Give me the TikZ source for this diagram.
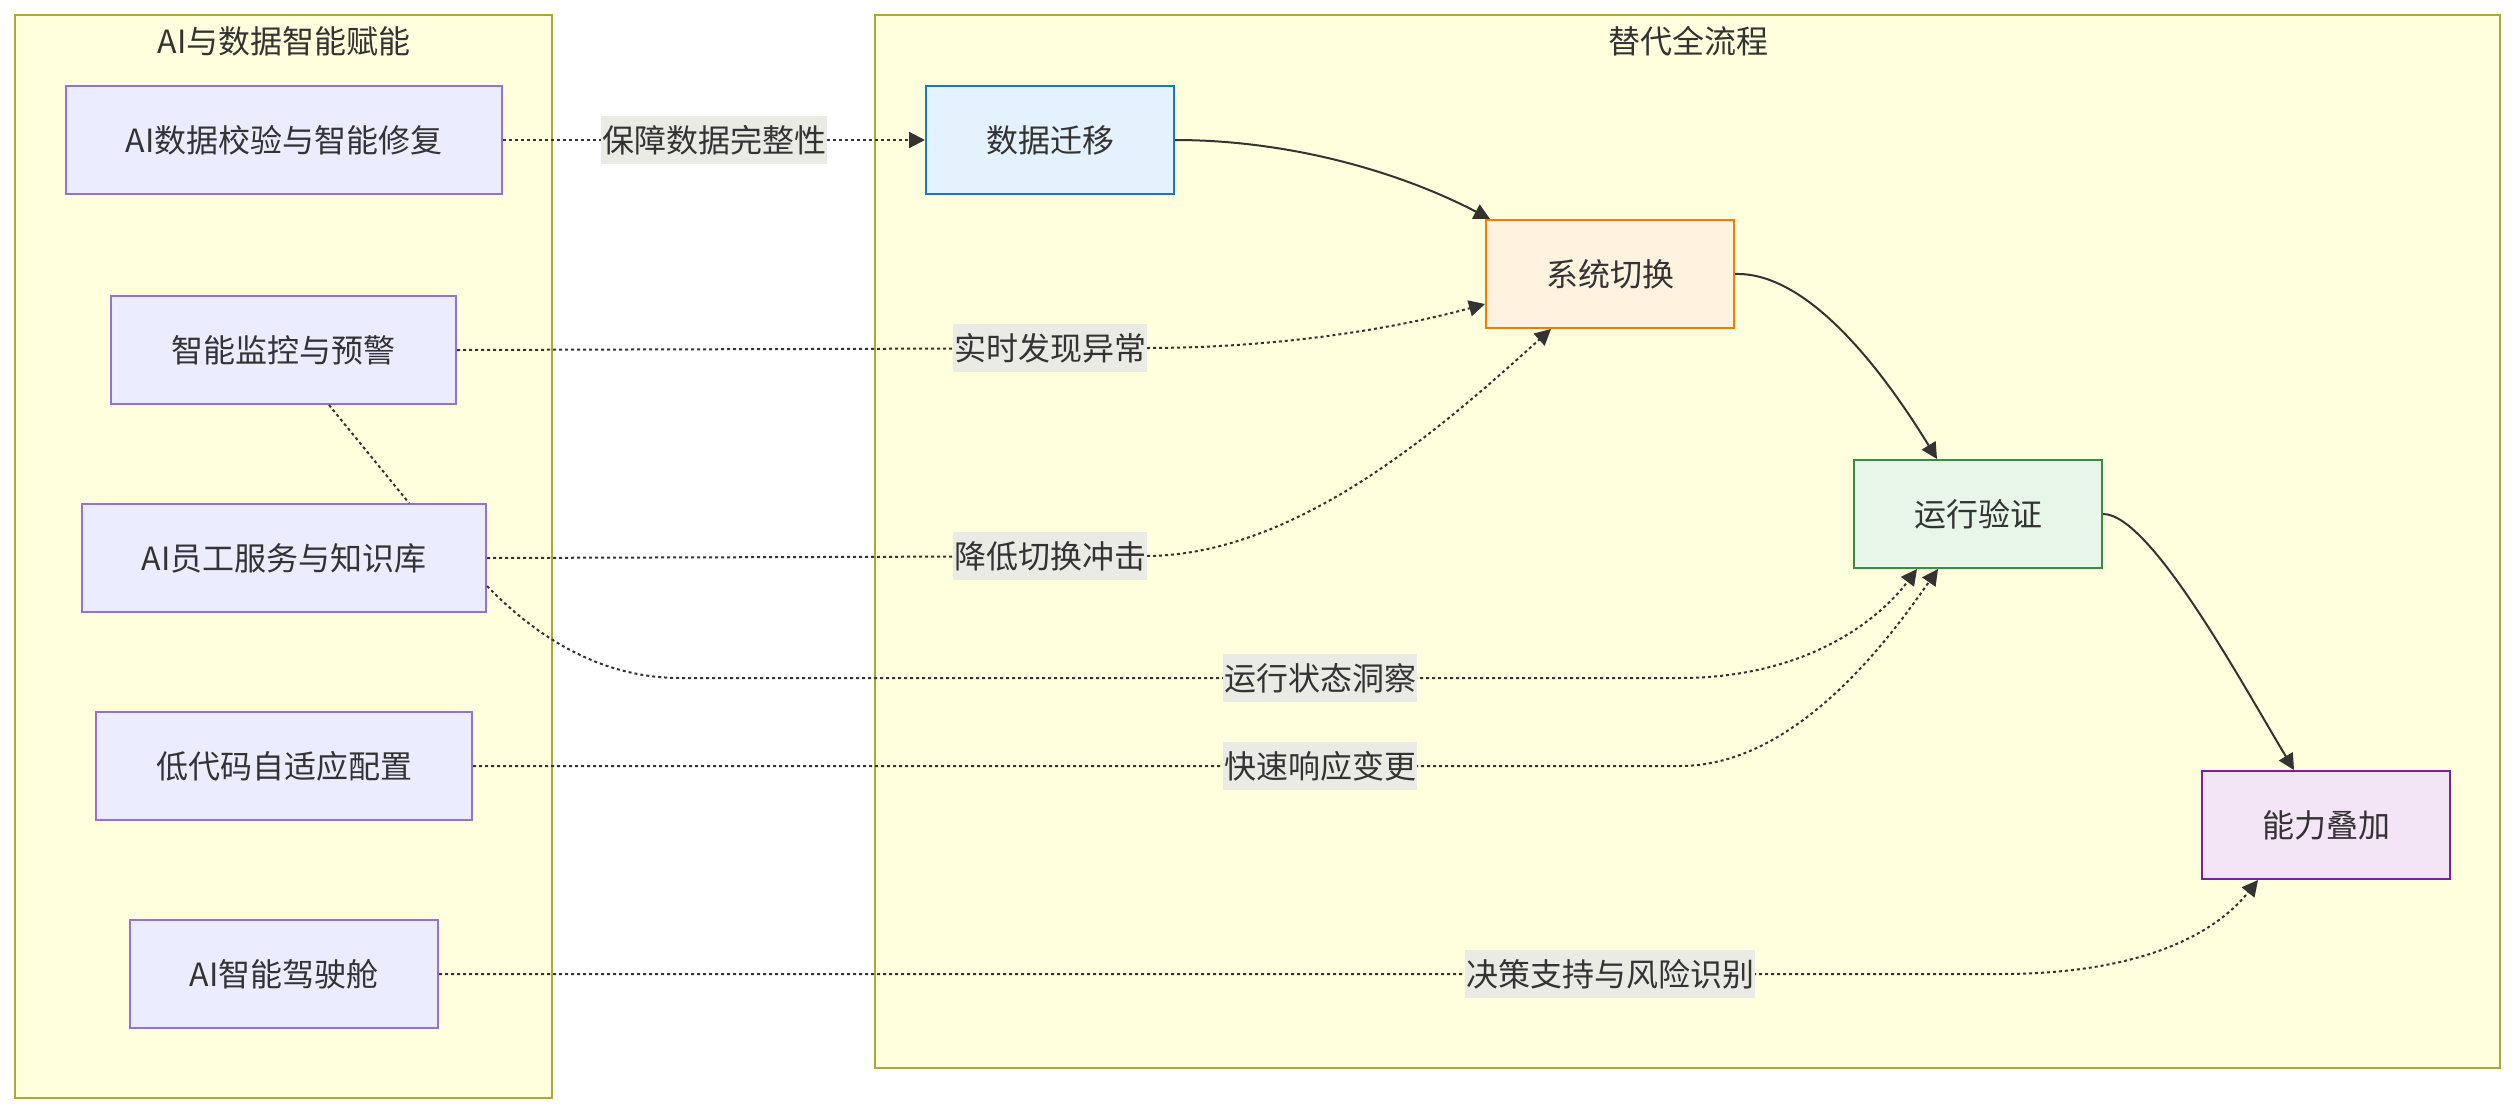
\documentclass[tikz,border=0pt]{standalone}
\usepackage{fontspec}
\setmainfont{Noto Sans CJK SC}
\usetikzlibrary{arrows.meta,calc}
\definecolor{txt}{HTML}{333333}
\definecolor{edgec}{HTML}{333333}
\definecolor{clfill}{HTML}{FFFFDE}
\definecolor{cldraw}{HTML}{AAAA33}
\definecolor{aifill}{HTML}{ECECFF}
\definecolor{aidraw}{HTML}{9370DB}
\definecolor{bfillA}{HTML}{E3F2FD}
\definecolor{bdrawA}{HTML}{1976D2}
\definecolor{bfillB}{HTML}{FFF3E0}
\definecolor{bdrawB}{HTML}{F57C00}
\definecolor{bfillC}{HTML}{E8F5E9}
\definecolor{bdrawC}{HTML}{388E3C}
\definecolor{bfillD}{HTML}{F3E5F5}
\definecolor{bdrawD}{HTML}{7B1FA2}
\definecolor{lblbg}{HTML}{EBEBE6}
\tikzset{
  basefont/.style={font=\fontsize{16pt}{19pt}\selectfont, text=txt},
  cluster/.style={draw=cldraw, fill=clfill, line width=1pt},
  ttl/.style={basefont, inner sep=0pt},
  aibox/.style={basefont, draw=aidraw, fill=aifill, line width=1pt, minimum height=54pt, inner sep=0pt},
  flowbox/.style={basefont, line width=1pt, minimum height=54pt, minimum width=124pt, inner sep=0pt},
  lbl/.style={basefont, fill=lblbg, inner xsep=0.5pt, inner ysep=0pt, minimum height=24pt},
  solidedge/.style={draw=edgec, line width=1pt, -{Triangle[length=8pt,width=8pt]}},
  dotedge/.style={draw=edgec, line width=1pt, dash pattern=on 1.5pt off 1.5pt, -{Triangle[length=8pt,width=8pt]}},
  dotlink/.style={draw=edgec, line width=1pt, dash pattern=on 1.5pt off 1.5pt},
}
\begin{document}
\begin{tikzpicture}[x=0.5pt,y=-0.5pt]
\useasboundingbox (0,0) rectangle (2515,1114);
\fill[white] (0,0) rectangle (2515,1114);
% clusters
\draw[cluster] (15,15) rectangle (552,1098);
\draw[cluster] (875,15) rectangle (2500,1068);
\node[ttl] (t1) at (284,41) {AI与数据智能赋能};
\node[ttl] (t2) at (1688,41) {替代全流程};
% left nodes
\node[aibox, minimum width=218pt] (A1) at (284,140) {AI数据校验与智能修复};
\node[aibox, minimum width=172.5pt] (A2) at (283.5,350) {智能监控与预警};
\node[aibox, minimum width=202pt] (A3) at (284,558) {AI员工服务与知识库};
\node[aibox, minimum width=188pt] (A4) at (284,766) {低代码自适应配置};
\node[aibox, minimum width=154pt] (A5) at (284,974) {AI智能驾驶舱};
% flow nodes
\node[flowbox, draw=bdrawA, fill=bfillA] (B1) at (1050,140) {数据迁移};
\node[flowbox, draw=bdrawB, fill=bfillB] (B2) at (1610,274) {系统切换};
\node[flowbox, draw=bdrawC, fill=bfillC] (B3) at (1978,514) {运行验证};
\node[flowbox, draw=bdrawD, fill=bfillD] (B4) at (2326,825) {能力叠加};
% solid flow edges
\draw[solidedge] (B1.east) .. controls (1290,140) and (1400,172) .. ($(B2.north west)+(5,0)$);
\draw[solidedge] (B2.east) .. controls (1800,272) and (1870,350) .. ($(B3.north west)+(84,0)$);
\draw[solidedge] (B3.east) .. controls (2150,514) and (2240,680) .. ($(B4.north west)+(93,0)$);
% dotted edges
\draw[dotlink] ([xshift=22.75pt]A2.south) -- ([xshift=62.5pt]A3.north);
\draw[dotedge] (A1.east) -- (B1.west);
\draw[dotedge] (A2.east) -- (1145,348) .. controls (1300,348) and (1420,322) .. ($(B2.west)+(0,30)$);
\draw[dotedge] (A3.east) -- (1145,556) .. controls (1300,556) and (1450,420) .. ($(B2.south west)+(66,0)$);
\draw[dotedge] ($(A3.east)+(0,28)$) .. controls (525,625) and (590,678) .. (680,678) -- (1680,678) .. controls (1800,678) and (1875,625) .. ($(B3.south west)+(64,0)$);
\draw[dotedge] (A4.east) -- (1680,766) .. controls (1800,766) and (1895,630) .. ($(B3.south west)+(85,0)$);
\draw[dotedge] (A5.east) -- (2000,974) .. controls (2130,974) and (2210,940) .. ($(B4.south west)+(57,0)$);
% edge labels
\node[lbl] (L1) at (714,140) {保障数据完整性};
\node[lbl] (L2) at (1050,348) {实时发现异常};
\node[lbl] (L3) at (1050,556) {降低切换冲击};
\node[lbl] (L4) at (1320,678) {运行状态洞察};
\node[lbl] (L5) at (1320,766) {快速响应变更};
\node[lbl] (L6) at (1610,974) {决策支持与风险识别};
\end{tikzpicture}
\end{document}
